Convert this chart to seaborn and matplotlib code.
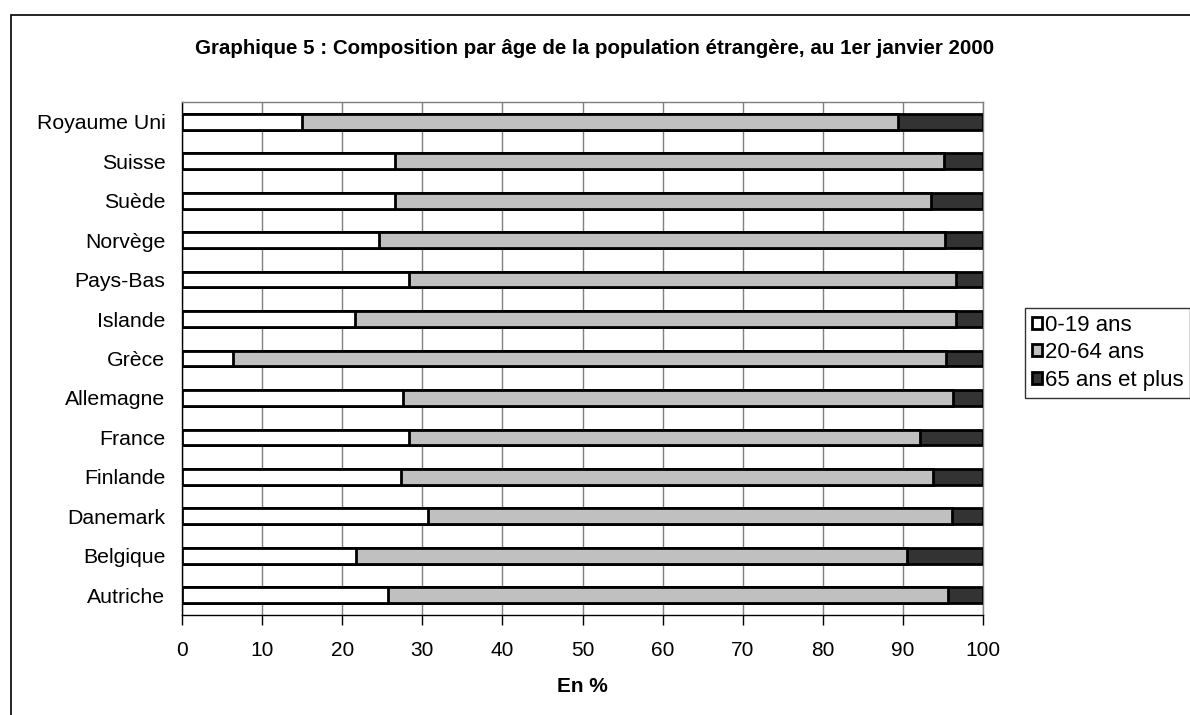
import numpy as np
import pandas as pd
import matplotlib
matplotlib.use("Agg")
import matplotlib.pyplot as plt
import seaborn as sns
from matplotlib.patches import Patch, Rectangle

countries = ["Royaume Uni", "Suisse", "Suède", "Norvège", "Pays-Bas", "Islande", "Grèce",
             "Allemagne", "France", "Finlande", "Danemark", "Belgique", "Autriche"]
age_0_19 = [15.0, 26.6, 26.6, 24.6, 28.4, 21.6, 6.4, 27.6, 28.4, 27.3, 30.7, 21.7, 25.7]
age_20_64 = [74.4, 68.5, 66.9, 70.7, 68.2, 75.0, 89.0, 68.7, 63.7, 66.5, 65.4, 68.8, 69.9]
age_65_plus = [10.6, 4.9, 6.5, 4.7, 3.4, 3.4, 4.6, 3.7, 7.9, 6.2, 3.9, 9.5, 4.4]
series_labels = ["0-19 ans", "20-64 ans", "65 ans et plus"]
colors = ["#ffffff", "#c0c0c0", "#333333"]

df = pd.DataFrame({"pays": countries, "a": age_0_19, "b": age_20_64, "c": age_65_plus})
df["cum1"] = df["a"]
df["cum2"] = df["a"] + df["b"]
df["cum3"] = df["a"] + df["b"] + df["c"]

sns.set_style("white")
plt.rcParams["font.family"] = ["Liberation Sans", "DejaVu Sans"]
plt.rcParams.update({"text.color": "black", "axes.labelcolor": "black",
                     "xtick.color": "black", "ytick.color": "black"})

fig = plt.figure(figsize=(11.9, 7.15), dpi=100)
ax = fig.add_axes([182 / 1190, 1 - 615 / 715, 801 / 1190, 513 / 715])

# cumulative bars, back to front
for col, c in zip(["cum3", "cum2", "cum1"], colors[::-1]):
    sns.barplot(data=df, x=col, y="pays", orient="h", color=c, edgecolor="black",
                linewidth=2, width=0.4, saturation=1, ax=ax, zorder=3)

ax.set_xlim(0, 100)
ax.set_xticks(np.arange(0, 101, 10))
ax.grid(axis="x", color="#7f7f7f", linewidth=1, zorder=0)
ax.grid(axis="y", visible=False)
ax.set_axisbelow(True)
for s in ax.spines.values():
    s.set_color("#7f7f7f")
    s.set_linewidth(1)
ax.spines["left"].set_color("black")
ax.spines["bottom"].set_color("black")

ax.set_yticks(np.arange(-0.5, len(countries), 1), minor=True)
ax.tick_params(axis="y", which="major", length=0, pad=12, labelsize=15.3, labelcolor="black")
ax.tick_params(axis="y", which="minor", length=6, width=1, color="black", direction="out")
ax.tick_params(axis="x", which="major", length=7, width=1, color="black", direction="out",
               labelsize=15, pad=12, bottom=True, labelcolor="black")
ax.set_ylabel("")
ax.set_xlabel("En %", fontsize=15, fontweight="bold", labelpad=12, color="black")

handles = [Patch(facecolor=c, edgecolor="black", linewidth=2) for c in colors]
leg = fig.legend(handles, series_labels, loc="upper left", bbox_to_anchor=(1025 / 1190, 1 - 308 / 715),
                 frameon=True, fancybox=False, edgecolor="black", fontsize=16,
                 handlelength=0.45, handleheight=0.45, handletextpad=0.15, labelspacing=0.3,
                 borderpad=0.3, borderaxespad=0, labelcolor="black")
leg.get_frame().set_linewidth(1)

fig.text(595 / 1190, 1 - 48 / 715,
         "Graphique 5 : Composition par âge de la population étrangère, au 1er janvier 2000",
         ha="center", va="center", fontsize=14.8, fontweight="bold", color="black")

fig.patches.append(Rectangle((11 / 1190, -0.1), 1.2, 1.1 - 15 / 715, transform=fig.transFigure,
                             fill=False, edgecolor="black", linewidth=1.2))

fig.savefig("out.png", dpi=100)
